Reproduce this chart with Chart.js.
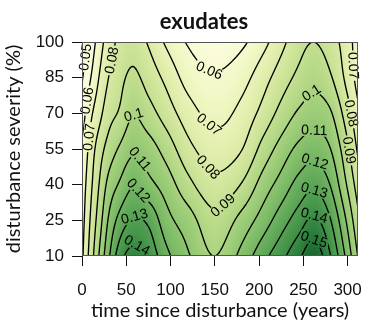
<!DOCTYPE html>
<html>
<head>
<meta charset="utf-8">
<style>
  html, body { margin: 0; padding: 0; background: #fff; }
</style>
</head>
<body>
<canvas id="chart" width="376" height="326"></canvas>
<script src="https://cdn.jsdelivr.net/npm/chart.js@4.4.1/dist/chart.umd.min.js"></script>
<script>
// grid columns: time since disturbance (years)
const years = [0, 10, 20, 30, 42, 57, 75, 95, 120, 150, 180, 205, 225, 245, 262, 280, 297, 312];
// grid rows: disturbance severity (%)
const severity = [10, 25, 40, 55, 70, 85, 100];
// exudates, one row per severity
const sev10  = [0.068, 0.085, 0.1017, 0.118, 0.135, 0.144, 0.1375, 0.123, 0.111, 0.100, 0.113, 0.127, 0.137, 0.148, 0.157, 0.141, 0.120, 0.099];
const sev25  = [0.066, 0.0815, 0.096, 0.111, 0.123, 0.131, 0.128, 0.114, 0.1045, 0.093, 0.1033, 0.115, 0.1253, 0.135, 0.142, 0.131, 0.1115, 0.092];
const sev40  = [0.064, 0.078, 0.091, 0.103, 0.111, 0.119, 0.113, 0.1055, 0.093, 0.083, 0.0905, 0.1047, 0.114, 0.1235, 0.128, 0.120, 0.102, 0.085];
const sev55  = [0.060, 0.0745, 0.0856, 0.094, 0.101, 0.108, 0.1045, 0.096, 0.083, 0.075, 0.0795, 0.0939, 0.104, 0.1125, 0.116, 0.1105, 0.095, 0.078];
const sev70  = [0.055, 0.068, 0.0773, 0.086, 0.091, 0.0995, 0.094, 0.0855, 0.0745, 0.067, 0.073, 0.0836, 0.0933, 0.1015, 0.105, 0.1015, 0.087, 0.072];
const sev85  = [0.049, 0.060, 0.071, 0.080, 0.0867, 0.092, 0.086, 0.0775, 0.066, 0.061, 0.066, 0.0762, 0.085, 0.0925, 0.097, 0.0915, 0.079, 0.066];
const sev100 = [0.044, 0.054, 0.0656, 0.075, 0.082, 0.086, 0.079, 0.0685, 0.059, 0.055, 0.058, 0.067, 0.077, 0.0865, 0.090, 0.085, 0.076, 0.065];

const levels = [0.05, 0.06, 0.07, 0.08, 0.09, 0.10, 0.11, 0.12, 0.13, 0.14, 0.15];
const xTicks = [0, 50, 100, 150, 200, 250, 300];
const yTicks = [10, 25, 40, 55, 70, 85, 100];

// where the contour labels sit: [level, years, severity]
const labelSpots = [
  [0.05, 5.4, 93.5], [0.06, 5.4, 75.4], [0.07, 7.6, 60], [0.08, 37, 92],
  [0.10, 59, 66.5], [0.11, 63, 49.7], [0.12, 62, 36.6], [0.13, 60, 25.2], [0.14, 61, 13.4],
  [0.06, 145, 89.3], [0.07, 145, 66], [0.08, 145, 48.4], [0.09, 156, 33.2],
  [0.10, 260, 78], [0.11, 262.5, 63.6], [0.12, 262.5, 48.8], [0.13, 262.5, 37.8],
  [0.14, 262.5, 27.3], [0.15, 262.5, 17.2],
  [0.07, 304, 90], [0.08, 304, 70], [0.09, 307, 54.7]
];

const rows = [sev10, sev25, sev40, sev55, sev70, sev85, sev100];

const palette = [
  [0.040, '#eef3c0'], [0.055, '#fbfcdc'], [0.065, '#f1f7c4'], [0.075, '#e2efae'],
  [0.085, '#cfe59a'], [0.095, '#b7da88'], [0.105, '#9ccc77'], [0.115, '#80bd68'],
  [0.125, '#63ab5a'], [0.135, '#47974c'], [0.145, '#2f823f'], [0.155, '#1d6c32'],
  [0.165, '#0f5626']
].map(([v, h]) => [v, parseInt(h.slice(1, 3), 16), parseInt(h.slice(3, 5), 16), parseInt(h.slice(5, 7), 16)]);

function colorAt(z) {
  if (z <= palette[0][0]) return palette[0].slice(1);
  for (let i = 1; i < palette.length; i++) {
    if (z <= palette[i][0]) {
      const a = palette[i - 1], b = palette[i];
      const f = (z - a[0]) / (b[0] - a[0]);
      return [a[1] + f * (b[1] - a[1]), a[2] + f * (b[2] - a[2]), a[3] + f * (b[3] - a[3])];
    }
  }
  return palette[palette.length - 1].slice(1);
}

// cubic hermite through the grid values
function herm(xs, ys, x) {
  const n = xs.length;
  if (x <= xs[0]) x = xs[0];
  if (x >= xs[n - 1]) x = xs[n - 1];
  let k = 0;
  while (k < n - 2 && x > xs[k + 1]) k++;
  const slope = i => {
    if (i === 0) return (ys[1] - ys[0]) / (xs[1] - xs[0]);
    if (i === n - 1) return (ys[n - 1] - ys[n - 2]) / (xs[n - 1] - xs[n - 2]);
    const h0 = xs[i] - xs[i - 1], h1 = xs[i + 1] - xs[i];
    const d0 = (ys[i] - ys[i - 1]) / h0, d1 = (ys[i + 1] - ys[i]) / h1;
    return (d0 * h1 + d1 * h0) / (h0 + h1);
  };
  const h = xs[k + 1] - xs[k];
  const u = (x - xs[k]) / h;
  const m0 = slope(k) * h, m1 = slope(k + 1) * h;
  const u2 = u * u, u3 = u2 * u;
  return (2 * u3 - 3 * u2 + 1) * ys[k] + (u3 - 2 * u2 + u) * m0 + (-2 * u3 + 3 * u2) * ys[k + 1] + (u3 - u2) * m1;
}

const fmt = v => String(Number(v.toFixed(2)));

const contourPlugin = {
  id: 'contour',
  beforeDatasetsDraw(chart) {
    const ctx = chart.ctx, area = chart.chartArea;
    const xs = chart.scales.x, ys = chart.scales.y;
    const L = Math.round(area.left), T = Math.round(area.top);
    const W = Math.round(area.right) - L, H = Math.round(area.bottom) - T;
    const F = new Float32Array(W * H);
    const sv = [];
    for (let j = 0; j < H; j++) sv.push(ys.getValueForPixel(T + j + 0.5));
    for (let i = 0; i < W; i++) {
      const t = xs.getValueForPixel(L + i + 0.5);
      const col = rows.map(r => herm(years, r, t));
      for (let j = 0; j < H; j++) F[j * W + i] = herm(severity, col, sv[j]);
    }
    const img = ctx.createImageData(W, H);
    for (let p = 0; p < W * H; p++) {
      const c = colorAt(F[p]);
      img.data[p * 4] = c[0]; img.data[p * 4 + 1] = c[1]; img.data[p * 4 + 2] = c[2]; img.data[p * 4 + 3] = 255;
    }
    ctx.putImageData(img, L, T);

    const samp = (x, y) => {
      x = Math.max(0, Math.min(W - 1.001, x)); y = Math.max(0, Math.min(H - 1.001, y));
      const i = Math.floor(x), j = Math.floor(y), fx = x - i, fy = y - j;
      const a = F[j * W + i], b = F[j * W + i + 1], c = F[(j + 1) * W + i], d = F[(j + 1) * W + i + 1];
      return (a * (1 - fx) + b * fx) * (1 - fy) + (c * (1 - fx) + d * fx) * fy;
    };
    const grad = (x, y) => [(samp(x + 2, y) - samp(x - 2, y)) / 4, (samp(x, y + 2) - samp(x, y - 2)) / 4];

    // place labels on their contour
    ctx.font = '14px "Liberation Sans", Arial, sans-serif';
    const labels = labelSpots.map(([lv, t, s]) => {
      let x = xs.getPixelForValue(t) - L - 0.5, y = ys.getPixelForValue(s) - T - 0.5;
      for (let k = 0; k < 10; k++) {
        const g = grad(x, y), g2 = g[0] * g[0] + g[1] * g[1];
        if (g2 === 0) break;
        const step = (lv - samp(x, y)) / g2;
        let dx = step * g[0], dy = step * g[1];
        const len = Math.hypot(dx, dy);
        if (len > 4) { dx *= 4 / len; dy *= 4 / len; }
        x += dx; y += dy;
      }
      const g = grad(x, y);
      let ang = Math.atan2(g[0], -g[1]);
      if (ang > Math.PI / 2) ang -= Math.PI;
      if (ang <= -Math.PI / 2) ang += Math.PI;
      const text = fmt(lv);
      return { x: x + L + 0.5, y: y + T + 0.5, ang, text, w: ctx.measureText(text).width };
    });

    ctx.save();
    ctx.beginPath();
    ctx.rect(L, T, W, H);
    labels.forEach(lb => {
      const c = Math.cos(lb.ang), s = Math.sin(lb.ang);
      const hw = lb.w / 2 + 1.5, hh = 6;
      const pts = [[-hw, -hh], [hw, -hh], [hw, hh], [-hw, hh]].map(([u, v]) => [lb.x + u * c - v * s, lb.y + u * s + v * c]);
      ctx.moveTo(pts[0][0], pts[0][1]);
      for (let k = 1; k < 4; k++) ctx.lineTo(pts[k][0], pts[k][1]);
      ctx.closePath();
    });
    ctx.clip('evenodd');

    ctx.beginPath();
    const ox = L + 0.5, oy = T + 0.5;
    for (let j = 0; j < H - 1; j++) {
      for (let i = 0; i < W - 1; i++) {
        const a = F[j * W + i], b = F[j * W + i + 1], c = F[(j + 1) * W + i + 1], d = F[(j + 1) * W + i];
        for (const lv of levels) {
          const idx = (a > lv ? 8 : 0) | (b > lv ? 4 : 0) | (c > lv ? 2 : 0) | (d > lv ? 1 : 0);
          if (idx === 0 || idx === 15) continue;
          const top = () => [i + (lv - a) / (b - a), j];
          const right = () => [i + 1, j + (lv - b) / (c - b)];
          const bottom = () => [i + (lv - d) / (c - d), j + 1];
          const left = () => [i, j + (lv - a) / (d - a)];
          let segs;
          switch (idx) {
            case 1: case 14: segs = [[left(), bottom()]]; break;
            case 2: case 13: segs = [[bottom(), right()]]; break;
            case 3: case 12: segs = [[left(), right()]]; break;
            case 4: case 11: segs = [[top(), right()]]; break;
            case 6: case 9: segs = [[top(), bottom()]]; break;
            case 7: case 8: segs = [[left(), top()]]; break;
            case 5: segs = [[left(), top()], [bottom(), right()]]; break;
            case 10: segs = [[top(), right()], [left(), bottom()]]; break;
          }
          segs.forEach(([p, q]) => { ctx.moveTo(ox + p[0], oy + p[1]); ctx.lineTo(ox + q[0], oy + q[1]); });
        }
      }
    }
    ctx.strokeStyle = '#000';
    ctx.lineWidth = 1.35;
    ctx.lineCap = 'round';
    ctx.stroke();
    ctx.restore();

    ctx.save();
    ctx.fillStyle = '#000';
    ctx.textAlign = 'center';
    ctx.textBaseline = 'middle';
    labels.forEach(lb => {
      ctx.save();
      ctx.translate(lb.x, lb.y);
      ctx.rotate(lb.ang);
      ctx.fillText(lb.text, 0, 0.5);
      ctx.restore();
    });
    ctx.restore();
  },
  afterDatasetsDraw(chart) {
    const ctx = chart.ctx, a = chart.chartArea;
    ctx.save();
    ctx.strokeStyle = '#555';
    ctx.lineWidth = 1;
    ctx.strokeRect(Math.round(a.left) + 0.5, Math.round(a.top) + 0.5, Math.round(a.right - a.left) - 1, Math.round(a.bottom - a.top) - 1);
    ctx.fillStyle = '#111';
    ctx.font = 'bold 22px Lato, "Open Sans", sans-serif';
    ctx.textAlign = 'center';
    ctx.textBaseline = 'alphabetic';
    ctx.fillText('exudates', 204, 29);
    ctx.restore();
  }
};

const gridNodes = [];
years.forEach((t, i) => severity.forEach((s, j) => gridNodes.push({ x: t, y: s, z: rows[j][i] })));

const tickFont = { family: '"Liberation Sans", Arial, sans-serif', size: 17 };
const titleFont = { family: 'Lato, "Open Sans", sans-serif', size: 20 };

new Chart(document.getElementById('chart'), {
  type: 'scatter',
  data: { datasets: [{ data: gridNodes, pointRadius: 0, pointHoverRadius: 0 }] },
  options: {
    responsive: false,
    animation: false,
    events: [],
    layout: { padding: { top: 42, right: 6, left: 0, bottom: 0 } },
    plugins: { legend: { display: false }, tooltip: { enabled: false } },
    scales: {
      x: {
        type: 'linear', min: 0, max: 312,
        afterBuildTicks: s => { s.ticks = xTicks.map(v => ({ value: v })); },
        afterFit: s => { s.height = 70; },
        ticks: { font: tickFont, color: '#111', padding: 14, maxRotation: 0, autoSkip: false },
        grid: { drawOnChartArea: false, drawTicks: true, tickLength: 10, color: '#111', tickColor: '#111' },
        border: { display: false },
        title: { display: true, text: 'time since disturbance (years)', font: titleFont, color: '#111', padding: { top: 0, bottom: 3 } }
      },
      y: {
        type: 'linear', min: 10, max: 100,
        afterBuildTicks: s => { s.ticks = yTicks.map(v => ({ value: v })); },
        afterFit: s => { s.width = 82; },
        ticks: { font: tickFont, color: '#111', padding: 8, autoSkip: false },
        grid: { drawOnChartArea: false, drawTicks: true, tickLength: 10, color: '#111', tickColor: '#111' },
        border: { display: false },
        title: { display: true, text: 'disturbance severity (%)', font: titleFont, color: '#111', padding: { top: 2, bottom: 0 } }
      }
    }
  },
  plugins: [contourPlugin]
});
</script>
</body>
</html>
